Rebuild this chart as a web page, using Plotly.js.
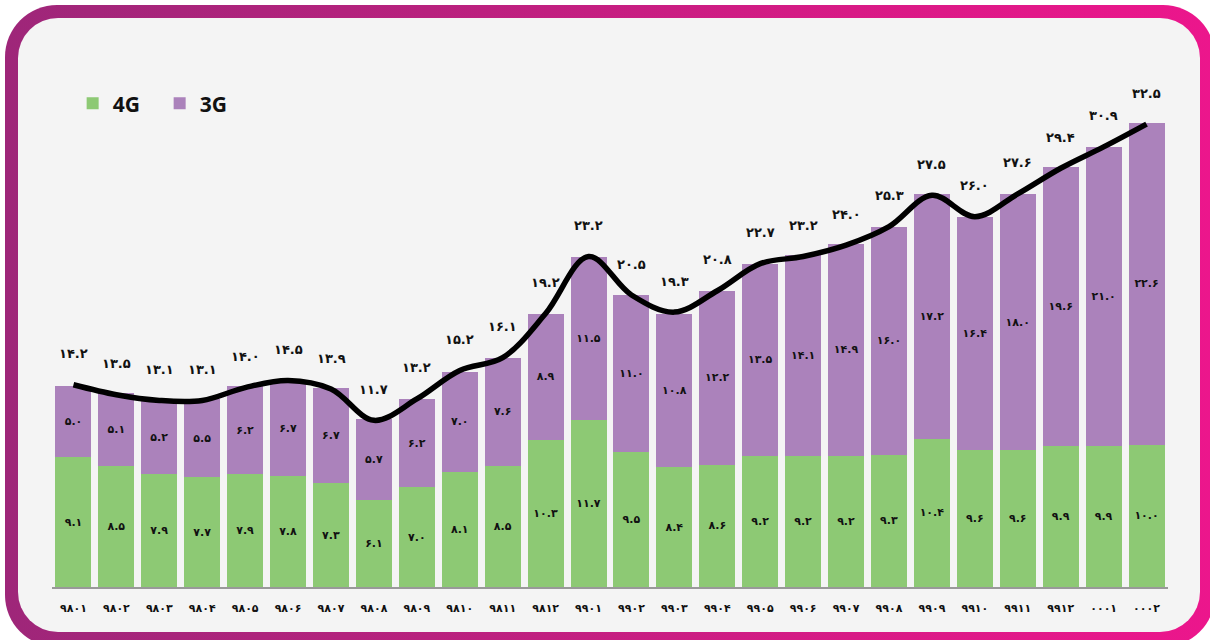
<!DOCTYPE html>
<html>
<head>
<meta charset="utf-8">
<script src="https://cdn.plot.ly/plotly-3.0.1.min.js"></script>
<style>
  html, body { margin: 0; padding: 0; background: #ffffff; width: 1210px; height: 640px; overflow: hidden; }
  #frame {
    position: absolute; left: 5px; top: 5px; width: 1210px; height: 642px;
    border-radius: 52px;
    background: linear-gradient(90deg, #9e2679 0%, #b8217e 35%, #d81a86 70%, #ec168c 100%);
  }
  #inner {
    position: absolute; left: 18px; top: 18px; width: 1182px; height: 614px;
    border-radius: 40px; background: #f4f4f4;
  }
  #chart { position: absolute; left: 0; top: 0; width: 1210px; height: 640px; }
</style>
</head>
<body>
<div id="frame"></div>
<div id="inner"></div>
<div id="chart"></div>
<script>
// Month labels (Persian calendar, YYMM)
const months = ['۹۸۰۱','۹۸۰۲','۹۸۰۳','۹۸۰۴','۹۸۰۵','۹۸۰۶','۹۸۰۷','۹۸۰۸','۹۸۰۹','۹۸۱۰','۹۸۱۱','۹۸۱۲',
                '۹۹۰۱','۹۹۰۲','۹۹۰۳','۹۹۰۴','۹۹۰۵','۹۹۰۶','۹۹۰۷','۹۹۰۸','۹۹۰۹','۹۹۱۰','۹۹۱۱','۹۹۱۲',
                '۰۰۰۱','۰۰۰۲'];
// 4G values
const g4 = [9.1, 8.5, 7.9, 7.7, 7.9, 7.8, 7.3, 6.1, 7.0, 8.1, 8.5, 10.3, 11.7, 9.5, 8.4, 8.6, 9.2, 9.2, 9.2, 9.3, 10.4, 9.6, 9.6, 9.9, 9.9, 10.0];
// 3G values
const g3 = [5.0, 5.1, 5.2, 5.5, 6.2, 6.7, 6.7, 5.7, 6.2, 7.0, 7.6, 8.9, 11.5, 11.0, 10.8, 12.2, 13.5, 14.1, 14.9, 16.0, 17.2, 16.4, 18.0, 19.6, 21.0, 22.6];
// Totals (as labelled)
const totals = [14.2, 13.5, 13.1, 13.1, 14.0, 14.5, 13.9, 11.7, 13.2, 15.2, 16.1, 19.2, 23.2, 20.5, 19.3, 20.8, 22.7, 23.2, 24.0, 25.3, 27.5, 26.0, 27.6, 29.4, 30.9, 32.5];

const faDigits = '۰۱۲۳۴۵۶۷۸۹';
function toFa(v) {
  return v.toFixed(1).replace(/[0-9]/g, d => faDigits[+d]);
}

const FONT = '"DejaVu Sans", "Noto Sans", sans-serif';
const GREEN = '#8dc974';
const PURPLE = '#ab82bb';

const data = [
  {
    type: 'bar', name: '4G', x: months, y: g4,
    marker: { color: GREEN },
    text: g4.map(toFa), textposition: 'inside', insidetextanchor: 'middle',
    textangle: 0, constraintext: 'none',
    textfont: { family: FONT, size: 11, color: '#111111', weight: 'bold' },
    hoverinfo: 'skip'
  },
  {
    type: 'bar', name: '3G', x: months, y: g3,
    marker: { color: PURPLE },
    text: g3.map(toFa), textposition: 'inside', insidetextanchor: 'middle',
    textangle: 0, constraintext: 'none',
    textfont: { family: FONT, size: 11, color: '#111111', weight: 'bold' },
    hoverinfo: 'skip'
  },
  {
    type: 'scatter', mode: 'lines', x: months, y: totals,
    line: { color: '#000000', width: 5.5, shape: 'spline', smoothing: 1 },
    showlegend: false, hoverinfo: 'skip'
  }
];

const annotations = months.map((m, i) => ({
  x: m, y: totals[i], xref: 'x', yref: 'y',
  text: toFa(totals[i]), showarrow: false, yshift: 31,
  font: { family: FONT, size: 13, color: '#111111', weight: 'bold' }
}));

const layout = {
  width: 1210, height: 640,
  margin: { l: 52, r: 42, t: 60, b: 53, autoexpand: false },
  paper_bgcolor: 'rgba(0,0,0,0)',
  plot_bgcolor: 'rgba(0,0,0,0)',
  barmode: 'stack',
  bargap: 0.16,
  showlegend: true,
  legend: {
    orientation: 'h', xref: 'paper', yref: 'paper',
    x: 0.0185, y: 0.956, xanchor: 'left', yanchor: 'top',
    font: { family: '"Open Sans", "DejaVu Sans", sans-serif', size: 21, color: '#111111', weight: 'bold' },
    bgcolor: 'rgba(0,0,0,0)', traceorder: 'normal',
    entrywidth: 42, entrywidthmode: 'pixels'
  },
  xaxis: {
    type: 'category', showline: true, linecolor: '#999999', linewidth: 2,
    showgrid: false, zeroline: false, ticks: '', ticklabelstandoff: 10,
    tickfont: { family: FONT, size: 11, color: '#111111', weight: 'bold' },
    fixedrange: true
  },
  yaxis: {
    range: [0, 37], visible: false, showgrid: false, zeroline: false, fixedrange: true
  },
  annotations: annotations
};

Plotly.newPlot('chart', data, layout, { displayModeBar: false, staticPlot: true });
</script>
</body>
</html>
